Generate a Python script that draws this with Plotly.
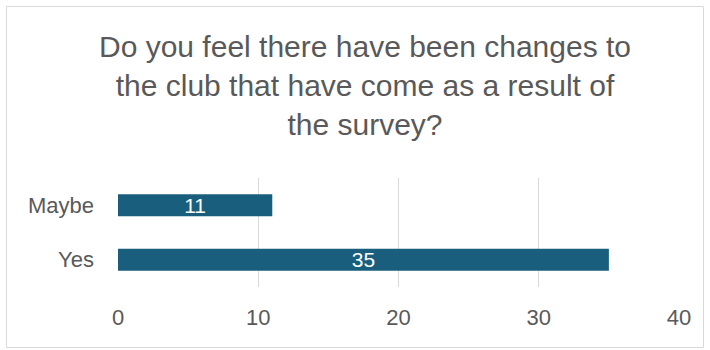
import plotly.graph_objects as go

categories = ["Yes", "Maybe"]
values = [35, 11]
x_ticks = [0, 10, 20, 30, 40]
title_text = "Do you feel there have been changes to<br>the club that have come as a result of<br>the survey?"

BAR = "#195F7D"
TXT = "#595959"
FONT = "Liberation Sans, Arial, sans-serif"

W, H = 710, 350
ml, mr, mt, mb = 118, 31, 178, 63
pw, ph = W - ml - mr, H - mt - mb

def px2paper_x(p):
    return (p - ml) / pw

def px2paper_y(p):
    return (H - mb - p) / ph

fig = go.Figure(go.Bar(
    y=categories, x=values, orientation="h",
    marker=dict(color=BAR, line=dict(width=0)),
    width=0.4,
    text=[str(v) for v in values], textposition="inside",
    insidetextanchor="middle", textangle=0, constraintext="none",
    textfont=dict(color="white", size=21, family=FONT),
    hoverinfo="skip",
))

fig.update_layout(
    width=W, height=H,
    margin=dict(l=ml, r=mr, t=mt, b=mb),
    paper_bgcolor="white", plot_bgcolor="white",
    showlegend=False,
    title=dict(
        text=title_text,
        x=365 / W, xanchor="center", xref="container",
        y=1 - 57 / H, yanchor="top", yref="container",
        font=dict(size=30, color=TXT, family=FONT),
    ),
    xaxis=dict(
        range=[0, 40], tickvals=x_ticks, showgrid=True, gridcolor="#D9D9D9", gridwidth=1,
        zeroline=False, showline=False, ticks="",
        tickfont=dict(size=22, color=TXT, family=FONT),
        ticklabelstandoff=15,
    ),
    yaxis=dict(
        categoryorder="array", categoryarray=categories,
        showgrid=False, zeroline=False, showline=False, ticks="",
        tickfont=dict(size=22, color=TXT, family=FONT),
        ticklabelstandoff=23,
    ),
    shapes=[dict(
        type="rect", xref="paper", yref="paper",
        x0=px2paper_x(6.5), x1=px2paper_x(703.5),
        y0=px2paper_y(347.5), y1=px2paper_y(6.5),
        line=dict(color="#D9D9D9", width=1), fillcolor="rgba(0,0,0,0)", layer="below",
    )],
)

fig.write_html("out.html")
